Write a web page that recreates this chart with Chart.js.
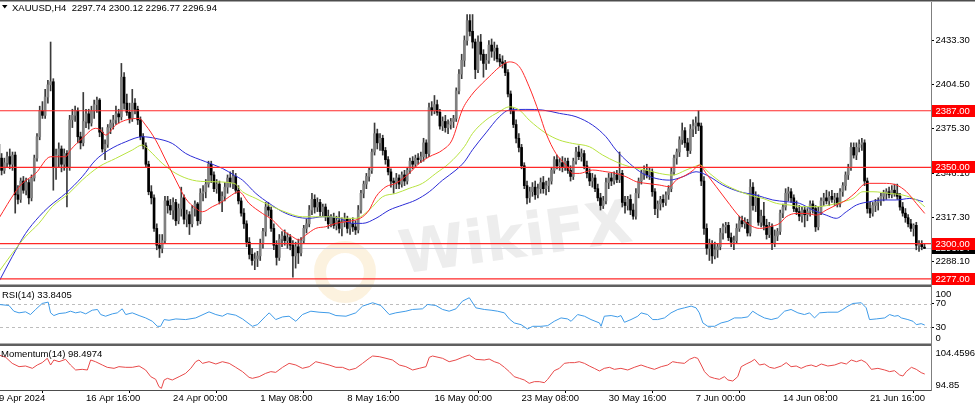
<!DOCTYPE html>
<html>
<head>
<meta charset="utf-8">
<script src="https://cdn.jsdelivr.net/npm/chart.js@4.4.1/dist/chart.umd.min.js"></script>
<style>
  html, body { margin: 0; padding: 0; background: #fff; }
  #chart { display: block; }
</style>
</head>
<body>
<canvas id="chart" width="975" height="405"></canvas>
<script>
const FONT = '"Liberation Sans", Arial, sans-serif';

const symbolTitle = 'XAUUSD,H4  2297.74 2300.12 2296.77 2296.94';
const rsiTitle = 'RSI(14) 33.8405';
const momTitle = 'Momentum(14) 98.4974';

// bottom axis: a label every 32 H4 bars
const tickBars = [0, 32, 64, 96, 128, 160, 192, 224, 256, 288, 320];
const tickLabels = ['9 Apr 2024', '16 Apr 16:00', '24 Apr 00:00', '1 May 08:00', '8 May 16:00',
  '16 May 00:00', '23 May 08:00', '30 May 16:00', '7 Jun 00:00', '14 Jun 08:00', '21 Jun 16:00'];

const priceTicks = [2433.30, 2404.50, 2375.30, 2346.10, 2317.30, 2288.10];
const levels = [2387, 2350, 2300, 2277];
const lastPrice = 2296.94;
const rsiLevels = [70, 30];
const rsiSideLabels = ['100', '0'];
const momSideLabels = ['104.4596', '94.85'];

const opens = [
  2365,2356,2348,2353,2357,2352,2358,2332,2329,2341,2335,2340,2330,2343,2356,2370,2387,2384,2396,2404,
  2406,2350,2358,2362,2352,2359,2350,2381,2384,2387,2370,2366,2380,2385,2379,2387,2391,2394,2373,2362,
  2365,2376,2379,2381,2385,2383,2409,2392,2386,2382,2392,2388,2381,2370,2364,2352,2334,2330,2310,2299,
  2297,2302,2328,2325,2322,2327,2315,2323,2330,2316,2319,2313,2323,2326,2315,2333,2334,2339,2352,2345,
  2336,2339,2328,2331,2337,2343,2340,2344,2335,2328,2320,2313,2301,2293,2289,2290,2292,2300,2308,2324,
  2322,2310,2299,2291,2303,2305,2302,2304,2299,2292,2298,2294,2302,2310,2313,2322,2329,2324,2327,2321,
  2324,2318,2313,2317,2312,2315,2310,2314,2316,2310,2313,2311,2309,2322,2333,2339,2344,2348,2360,2372,
  2366,2369,2361,2355,2347,2341,2340,2343,2339,2345,2341,2348,2354,2352,2356,2355,2357,2366,2359,2389,
  2387,2391,2386,2377,2380,2376,2378,2380,2382,2400,2411,2420,2433,2446,2439,2432,2414,2432,2424,2418,
  2420,2430,2426,2428,2421,2419,2418,2412,2398,2387,2378,2369,2363,2351,2338,2330,2334,2337,2332,2336,
  2340,2336,2338,2341,2348,2355,2351,2353,2350,2354,2348,2344,2354,2360,2357,2359,2351,2346,2341,2343,
  2336,2330,2325,2328,2340,2343,2341,2345,2342,2346,2327,2325,2329,2322,2318,2333,2341,2346,2348,2345,
  2347,2334,2323,2326,2329,2327,2332,2336,2347,2356,2360,2368,2374,2366,2361,2375,2377,2379,2377,2341,
  2310,2297,2300,2292,2296,2298,2307,2311,2312,2304,2301,2302,2310,2315,2313,2314,2307,2337,2325,2330,
  2314,2318,2312,2306,2311,2300,2305,2308,2320,2324,2333,2334,2330,2323,2321,2318,2322,2319,2321,2326,
  2323,2311,2321,2328,2330,2328,2331,2329,2330,2326,2334,2338,2345,2350,2363,2358,2363,2365,2366,2341,
  2323,2320,2325,2327,2328,2331,2333,2334,2332,2335,2333,2331,2324,2320,2317,2313,2310,2312,2299,2300,
  2297.74
];
const highs = [
  2368,2359,2356,2360,2362,2360,2360,2338,2343,2344,2343,2342,2345,2358,2372,2390,2393,2401,2407,2432,
  2408,2362,2366,2364,2362,2361,2384,2388,2390,2389,2373,2399,2388,2388,2390,2394,2396,2395,2376,2368,
  2378,2381,2384,2390,2388,2418,2412,2398,2392,2401,2395,2390,2383,2372,2366,2354,2338,2332,2313,2306,
  2306,2331,2331,2329,2330,2329,2326,2337,2332,2322,2321,2325,2328,2327,2336,2338,2342,2354,2354,2347,
  2342,2341,2334,2340,2345,2347,2348,2346,2338,2330,2323,2315,2304,2297,2294,2295,2303,2310,2327,2327,
  2324,2313,2302,2306,2308,2309,2307,2306,2302,2301,2303,2304,2312,2316,2325,2333,2332,2330,2329,2326,
  2326,2322,2319,2320,2318,2321,2317,2320,2318,2316,2317,2315,2325,2335,2341,2346,2350,2362,2379,2375,
  2372,2371,2363,2357,2349,2343,2346,2345,2347,2348,2350,2356,2357,2358,2359,2360,2369,2368,2392,2393,
  2397,2394,2388,2383,2384,2381,2382,2384,2402,2414,2424,2436,2450,2450,2450,2434,2436,2437,2427,2424,
  2433,2434,2432,2430,2424,2423,2420,2414,2400,2389,2381,2372,2365,2353,2341,2337,2340,2341,2339,2343,
  2344,2341,2343,2350,2357,2358,2356,2357,2356,2356,2351,2356,2363,2364,2362,2361,2354,2349,2346,2345,
  2339,2333,2331,2343,2346,2346,2347,2348,2360,2348,2331,2331,2332,2326,2336,2343,2348,2351,2352,2350,
  2349,2336,2328,2331,2332,2334,2338,2350,2358,2362,2370,2379,2376,2369,2378,2381,2383,2387,2379,2344,
  2313,2303,2302,2301,2300,2310,2313,2314,2314,2307,2305,2313,2318,2318,2317,2316,2342,2340,2334,2332,
  2322,2327,2316,2314,2313,2309,2310,2322,2326,2336,2337,2336,2332,2328,2325,2324,2324,2323,2328,2328,
  2325,2324,2330,2333,2335,2334,2335,2333,2333,2336,2340,2347,2352,2366,2366,2366,2368,2369,2368,2343,
  2327,2327,2329,2330,2333,2335,2336,2337,2338,2339,2339,2333,2327,2323,2319,2316,2313,2314,2302,2302,
  2300.12
];
const lows = [
  2352,2345,2346,2350,2349,2348,2320,2326,2327,2333,2332,2326,2328,2341,2354,2368,2382,2382,2392,2400,
  2335,2342,2350,2347,2348,2324,2348,2376,2380,2366,2362,2364,2376,2375,2377,2382,2386,2370,2360,2355,
  2363,2372,2375,2378,2379,2381,2388,2384,2379,2380,2385,2378,2368,2362,2350,2332,2326,2308,2296,2291,
  2294,2300,2320,2319,2316,2312,2313,2318,2313,2311,2306,2311,2318,2312,2313,2328,2330,2337,2340,2334,
  2333,2326,2321,2328,2333,2337,2336,2333,2326,2318,2310,2298,2290,2286,2283,2285,2289,2297,2305,2318,
  2308,2296,2286,2289,2298,2299,2297,2296,2278,2284,2287,2292,2300,2307,2311,2319,2320,2321,2318,2318,
  2315,2310,2311,2310,2309,2307,2305,2311,2307,2306,2308,2306,2307,2320,2330,2336,2341,2346,2358,2362,
  2361,2358,2352,2345,2337,2333,2336,2336,2337,2338,2339,2346,2349,2350,2352,2353,2354,2356,2357,2384,
  2385,2384,2375,2374,2373,2372,2375,2376,2380,2398,2408,2416,2430,2436,2428,2408,2412,2420,2409,2414,
  2418,2422,2420,2419,2416,2415,2410,2396,2385,2376,2366,2360,2349,2336,2326,2327,2331,2329,2330,2333,
  2333,2332,2334,2339,2346,2349,2348,2347,2348,2346,2341,2342,2352,2355,2354,2349,2343,2338,2337,2334,
  2328,2322,2323,2326,2336,2338,2339,2340,2340,2324,2320,2322,2319,2316,2316,2330,2339,2342,2343,2342,
  2331,2319,2317,2322,2324,2325,2329,2334,2345,2352,2357,2365,2363,2357,2359,2370,2372,2374,2338,2306,
  2293,2289,2287,2290,2291,2296,2303,2307,2302,2298,2296,2300,2308,2311,2310,2305,2305,2322,2321,2312,
  2311,2309,2303,2304,2296,2298,2302,2306,2317,2322,2328,2327,2321,2319,2315,2314,2311,2315,2318,2320,
  2308,2309,2319,2325,2326,2325,2327,2325,2324,2324,2331,2335,2342,2348,2356,2355,2360,2361,2338,2320,
  2317,2318,2321,2322,2325,2328,2329,2330,2330,2331,2329,2322,2318,2314,2311,2308,2305,2296,2295,2296,
  2296.77
];
const closes = [
  2356,2348,2353,2357,2352,2358,2332,2329,2341,2335,2340,2330,2343,2356,2370,2387,2384,2396,2404,2406,
  2350,2358,2362,2352,2359,2350,2381,2384,2387,2370,2366,2380,2385,2379,2387,2391,2394,2373,2362,2365,
  2376,2379,2381,2385,2383,2409,2392,2386,2382,2392,2388,2381,2370,2364,2352,2334,2330,2310,2299,2297,
  2302,2328,2325,2322,2327,2315,2323,2330,2316,2319,2313,2323,2326,2315,2333,2334,2339,2352,2345,2336,
  2339,2328,2331,2337,2343,2340,2344,2335,2328,2320,2313,2301,2293,2289,2290,2292,2300,2308,2324,2322,
  2310,2299,2291,2303,2305,2302,2304,2299,2292,2298,2294,2302,2310,2313,2322,2329,2324,2327,2321,2324,
  2318,2313,2317,2312,2315,2310,2314,2316,2310,2313,2311,2309,2322,2333,2339,2344,2348,2360,2372,2366,
  2369,2361,2355,2347,2341,2340,2343,2339,2345,2341,2348,2354,2352,2356,2355,2357,2366,2359,2389,2387,
  2391,2386,2377,2380,2376,2378,2380,2382,2400,2411,2420,2433,2446,2439,2432,2414,2432,2424,2418,2420,
  2430,2426,2428,2421,2419,2418,2412,2398,2387,2378,2369,2363,2351,2338,2330,2334,2337,2332,2336,2340,
  2336,2338,2341,2348,2355,2351,2353,2350,2354,2348,2344,2354,2360,2357,2359,2351,2346,2341,2343,2336,
  2330,2325,2328,2340,2343,2341,2345,2342,2346,2327,2325,2329,2322,2318,2333,2341,2346,2348,2345,2347,
  2334,2323,2326,2329,2327,2332,2336,2347,2356,2360,2368,2374,2366,2361,2375,2377,2379,2377,2341,2310,
  2297,2300,2292,2296,2298,2307,2311,2312,2304,2301,2302,2310,2315,2313,2314,2307,2337,2325,2330,2314,
  2318,2312,2306,2311,2300,2305,2308,2320,2324,2333,2334,2330,2323,2321,2318,2322,2319,2321,2326,2323,
  2311,2321,2328,2330,2328,2331,2329,2330,2326,2334,2338,2345,2350,2363,2358,2363,2365,2366,2341,2323,
  2320,2325,2327,2328,2331,2333,2334,2332,2335,2333,2331,2324,2320,2317,2313,2310,2312,2299,2300,2298,
  2296.94
];

// moving averages, read as [bar, price]
const maRed = [
  [0,2316.6],[6.1,2334.0],[8.6,2339.5],[13.5,2346.0],[19.0,2356.9],[24.5,2356.9],[26.3,2361.3],[30.6,2368.9],
  [35.5,2375.5],[37.4,2374.4],[39.2,2371.1],[42.9,2377.6],[46.6,2380.9],[51.5,2382.0],[53.9,2377.6],[57.6,2367.8],
  [61.3,2354.7],[65.0,2341.6],[68.6,2329.6],[72.3,2323.1],[74.8,2320.9],[78.4,2324.2],[82.1,2327.5],[84.6,2330.7],
  [88.2,2334.0],[91.9,2326.4],[96.8,2319.8],[100.5,2315.5],[104.2,2308.9],[107.8,2304.6],[110.3,2302.4],[112.7,2305.6],
  [116.4,2310.0],[120.1,2311.1],[123.8,2313.3],[127.5,2314.4],[131.1,2315.5],[133.6,2317.6],[136.0,2322.0],[138.5,2330.7],
  [142.2,2337.3],[145.8,2339.5],[150.7,2346.0],[154.4,2352.6],[158.1,2356.9],[163.0,2361.3],[166.5,2368.0],[170.2,2387.5],
  [173.5,2397.0],[177.6,2405.0],[180.1,2409.3],[183.8,2415.5],[187.5,2419.0],[191.2,2415.8],[194.8,2402.7],[198.5,2385.3],
  [201.0,2372.2],[204.6,2359.1],[208.3,2351.5],[210.8,2346.0],[213.2,2346.0],[215.7,2347.1],[218.1,2348.2],[223.0,2347.1],
  [226.7,2346.0],[230.4,2343.8],[234.1,2340.6],[237.7,2339.5],[242.6,2338.4],[246.3,2337.3],[248.8,2341.6],[252.4,2344.9],
  [255.0,2348.0],[257.4,2351.5],[259.8,2346.0],[263.5,2337.3],[267.2,2328.6],[272.1,2317.6],[275.8,2312.2],[279.4,2310.0],
  [283.1,2311.1],[286.8,2313.3],[289.2,2317.6],[292.9,2319.8],[296.6,2319.8],[300.3,2318.7],[303.9,2322.0],[307.6,2325.3],
  [311.3,2328.6],[315.0,2334.0],[317.4,2338.4],[319.9,2339.5],[324.8,2339.5],[329.7,2338.4],[333.4,2334.0],[337.0,2326.4],
  [340.1,2319.8]
];
const maGreen = [
  [0,2281.6],[4.9,2293.6],[9.8,2304.6],[14.7,2313.3],[19.6,2324.2],[25.7,2332.9],[30.6,2341.6],[36.8,2350.4],
  [42.9,2355.8],[49.0,2361.3],[52.7,2364.6],[55.1,2361.3],[60.0,2352.6],[65.0,2346.0],[71.1,2341.6],[77.2,2340.6],
  [86.4,2339.5],[89.5,2334.0],[94.4,2329.6],[100.5,2324.2],[106.6,2319.8],[111.5,2317.6],[116.4,2317.6],[121.3,2317.6],
  [127.5,2316.6],[131.1,2316.6],[136.0,2322.0],[140.9,2330.7],[145.8,2332.9],[150.7,2336.2],[155.6,2339.5],[160.5,2346.0],
  [165.4,2352.6],[171.0,2363.5],[174.0,2372.2],[178.9,2380.9],[183.8,2386.4],[187.5,2389.6],[191.2,2387.5],[194.8,2380.9],
  [201.0,2372.2],[205.9,2367.8],[210.8,2365.6],[216.9,2363.5],[221.8,2358.0],[226.7,2353.6],[231.6,2350.4],[237.7,2348.2],
  [242.6,2346.0],[247.5,2344.9],[252.4,2348.2],[255.5,2350.4],[257.4,2351.5],[261.1,2346.0],[265.9,2339.5],[270.9,2335.1],
  [275.8,2331.8],[280.7,2329.6],[285.6,2326.4],[290.5,2325.3],[295.4,2324.2],[300.3,2324.2],[305.2,2325.3],[310.1,2327.5],
  [313.7,2329.6],[317.4,2334.0],[321.1,2334.0],[327.2,2332.9],[332.1,2331.8],[337.0,2328.6],[340.1,2324.2]
];
const maBlue = [
  [0,2275.1],[4.9,2291.5],[9.8,2306.7],[14.7,2317.6],[18.4,2324.2],[24.5,2332.9],[30.6,2343.8],[35.5,2354.7],
  [40.4,2361.3],[46.6,2366.7],[52.7,2370.0],[57.6,2368.9],[63.7,2365.6],[68.6,2359.1],[76.0,2353.6],[82.1,2349.3],
  [86.4,2344.9],[89.5,2341.6],[94.4,2332.9],[99.3,2326.4],[104.2,2320.9],[109.1,2317.6],[114.0,2316.6],[118.9,2317.6],
  [125.0,2316.6],[129.9,2313.3],[133.6,2313.3],[138.5,2316.6],[143.4,2322.0],[148.3,2325.3],[153.2,2328.6],[158.1,2334.0],
  [163.0,2341.6],[167.9,2348.2],[171.0,2353.6],[174.0,2361.5],[178.9,2372.5],[183.8,2383.0],[187.5,2387.5],[193.6,2387.9],
  [199.7,2387.5],[205.9,2385.3],[212.0,2383.1],[218.1,2377.6],[223.0,2370.0],[226.7,2361.3],[231.6,2352.6],[236.5,2346.0],
  [241.4,2342.7],[246.3,2341.6],[251.2,2343.8],[256.1,2347.1],[261.1,2343.8],[265.9,2338.4],[272.1,2334.0],[278.2,2331.8],
  [284.3,2328.6],[289.2,2327.5],[294.1,2326.4],[299.0,2322.0],[303.9,2318.7],[307.6,2316.6],[311.3,2320.9],[315.0,2325.3],
  [319.9,2327.5],[324.8,2328.6],[329.7,2328.6],[334.6,2329.6],[339.5,2327.5]
];

// indicator panes, read as [bar, value]
const rsi = [
  [0,68.7],[3.7,67.0],[5.5,57.3],[7.4,54.5],[9.8,56.2],[11.6,51.6],[13.5,60.2],[15.9,70.4],[18.1,72.7],[19.0,54.5],
  [20.2,49.9],[22.1,53.3],[24.5,54.5],[26.3,57.3],[28.2,54.5],[30.0,56.2],[31.9,52.8],[34.3,59.0],[36.2,60.2],[37.4,51.6],
  [39.2,48.8],[41.7,52.8],[43.5,54.5],[45.3,61.3],[46.6,51.6],[49.0,54.5],[51.5,49.9],[53.9,45.9],[56.4,40.2],[58.2,31.7],
  [59.4,31.7],[60.7,43.1],[62.5,41.9],[65.0,44.2],[68.6,43.1],[72.3,45.9],[77.2,56.2],[79.7,51.6],[82.1,48.8],[83.9,53.3],
  [87.0,50.5],[89.5,44.2],[93.1,31.7],[95.0,34.5],[98.0,48.8],[99.3,54.5],[101.7,43.1],[104.2,47.6],[106.6,48.8],[109.1,40.2],
  [111.5,51.6],[114.6,57.3],[117.6,55.6],[121.3,54.5],[123.8,49.9],[127.5,48.8],[131.1,54.5],[133.6,65.9],[137.3,71.6],[140.3,67.0],
  [143.4,51.6],[145.8,54.5],[149.5,57.3],[151.9,60.2],[155.6,61.3],[157.5,68.7],[160.5,67.0],[163.0,60.2],[165.4,57.3],[167.9,61.3],
  [170.3,74.4],[172.8,80.1],[175.2,63.0],[178.3,60.2],[180.8,59.0],[183.2,57.3],[185.7,54.5],[187.5,44.2],[189.3,37.4],[191.8,34.5],
  [194.2,27.1],[196.1,31.7],[199.1,31.7],[201.6,32.8],[204.0,40.2],[206.5,45.9],[208.9,44.2],[210.2,40.2],[212.6,51.6],[215.1,48.8],
  [217.5,43.1],[220.6,37.4],[221.2,31.7],[222.4,48.8],[224.9,49.9],[227.3,47.6],[228.5,49.9],[229.8,38.5],[232.2,43.1],[234.7,48.8],
  [235.9,54.5],[238.3,51.6],[240.2,43.1],[242.0,43.1],[244.5,45.9],[246.9,54.5],[249.4,60.2],[251.8,63.0],[254.3,65.9],[256.1,63.0],
  [257.3,54.5],[258.6,37.4],[260.4,31.7],[262.9,31.7],[265.3,37.4],[267.8,40.2],[270.2,45.9],[272.7,45.9],[275.1,47.6],[276.9,57.3],
  [278.8,51.6],[281.2,45.9],[283.7,43.1],[286.1,45.9],[288.6,57.3],[291.0,60.2],[293.5,54.5],[295.9,51.6],[297.8,54.5],[299.6,45.9],
  [301.5,54.5],[304.5,55.6],[308.2,55.6],[310.0,60.2],[311.9,65.9],[313.7,70.4],[316.8,71.6],[318.6,63.0],[319.8,43.1],[322.3,44.2],
  [325.4,45.9],[327.2,51.6],[329.0,48.8],[330.3,49.9],[331.5,45.9],[333.9,43.1],[335.8,40.2],[337.0,34.5],[338.8,36.2],[340.1,33.8]
];
const momentum = [
  [0,102.86],[2.5,102.33],[4.9,100.95],[7.4,100.19],[9.8,100.34],[12.3,99.81],[14.1,100.57],[15.9,101.11],[17.8,102.10],[19.0,100.57],
  [20.2,101.72],[22.1,101.33],[24.5,101.87],[26.3,100.57],[28.2,99.43],[30.6,99.58],[32.5,99.43],[33.7,101.72],[35.5,101.33],[38.0,100.57],
  [39.8,100.04],[42.3,99.81],[44.1,100.19],[46.6,100.04],[49.0,100.04],[51.5,100.34],[53.9,99.43],[55.8,97.90],[57.6,97.29],[58.8,95.61],
  [59.7,95.23],[60.7,97.14],[61.9,97.52],[63.7,97.14],[66.2,97.90],[68.6,98.66],[70.5,99.81],[72.3,101.33],[73.5,101.72],[74.8,100.95],
  [77.2,101.33],[79.7,100.80],[82.1,101.33],[84.6,100.95],[87.0,100.04],[89.5,99.05],[91.9,97.75],[93.1,97.52],[95.6,97.90],[98.0,98.66],
  [99.9,99.05],[101.7,98.89],[104.2,100.04],[106.6,100.95],[109.1,100.57],[111.5,99.81],[114.0,100.19],[116.4,101.33],[118.9,100.95],[121.3,100.57],
  [123.8,100.04],[126.2,100.04],[128.7,99.43],[131.1,99.81],[133.6,100.95],[136.0,102.10],[137.3,102.63],[139.7,102.48],[142.2,102.10],[144.6,101.72],
  [147.1,100.57],[149.5,100.19],[152.0,99.43],[154.4,99.81],[156.9,100.19],[158.1,102.33],[159.3,102.63],[163.0,102.10],[165.4,101.33],[167.9,101.72],
  [170.3,102.33],[172.8,102.86],[175.2,101.87],[178.3,101.72],[180.1,101.94],[182.0,101.33],[183.8,100.95],[185.7,100.04],[187.5,99.05],[189.3,97.90],
  [191.2,97.52],[193.0,97.14],[194.8,96.38],[196.7,96.76],[198.5,96.76],[200.4,96.53],[201.6,97.29],[202.8,98.28],[204.0,99.27],[205.9,99.81],
  [207.7,100.95],[209.6,101.11],[211.4,101.11],[213.2,101.33],[215.1,100.95],[216.9,100.34],[218.7,99.81],[220.6,99.20],[222.4,99.81],[224.3,100.04],
  [226.1,99.58],[228.5,99.81],[231.0,99.43],[233.4,100.04],[235.9,100.57],[238.3,100.04],[240.8,99.58],[243.3,100.19],[245.7,100.57],[247.5,101.33],
  [249.4,101.11],[251.8,100.95],[253.7,101.87],[255.5,102.33],[256.7,102.10],[258.0,100.57],[259.2,99.05],[261.0,97.90],[262.9,97.52],[264.7,97.29],
  [266.5,97.90],[267.8,97.14],[269.6,96.91],[271.4,97.90],[272.7,100.19],[274.5,100.80],[276.3,101.33],[277.6,101.87],[279.4,100.57],[281.2,100.80],
  [283.1,100.04],[284.9,99.81],[287.4,100.34],[289.2,101.11],[291.0,100.19],[292.9,100.34],[294.7,99.81],[296.6,100.34],[298.4,100.57],[300.2,100.19],
  [302.1,100.80],[304.5,100.34],[307.0,100.57],[309.4,101.11],[311.3,100.80],[313.1,101.72],[315.0,101.33],[316.8,101.72],[318.6,101.11],[320.5,99.58],
  [322.9,99.81],[325.4,99.43],[327.2,99.05],[329.0,99.27],[330.9,98.28],[332.1,98.05],[333.3,99.05],[335.2,100.04],[337.0,99.58],[338.8,98.82],
  [340.1,98.50]
];

const toPoints = arr => arr.map(p => ({x: p[0], y: p[1]}));
const candleBodies = closes.map((c, i) => ({x: i, y: [opens[i], c]}));
const candleWicks = highs.map((h, i) => ({x: i, y: [lows[i], h]}));
const bodyColors = closes.map((c, i) => c >= opens[i] ? '#808080' : '#000000');

function lineSet(data, axis, color) {
    return {
        type: 'line',
        data: toPoints(data),
        yAxisID: axis,
        borderColor: color,
        borderWidth: 1,
        pointRadius: 0,
        cubicInterpolationMode: axis === 'y' ? 'monotone' : 'default',
        tension: 0,
        order: 0
    };
}

const panesPlugin = {
    id: 'panes',
    beforeDatasetsDraw(chart) {
        const {ctx, chartArea, scales} = chart;
        const y = scales.y;
        const yRsi = scales.yRsi;

        // watermark behind the candles
        ctx.save();
        ctx.beginPath();
        ctx.rect(chartArea.left, y.top, chartArea.right - chartArea.left, yRsi.bottom - y.top);
        ctx.clip();
        ctx.strokeStyle = 'rgba(246, 210, 140, 0.28)';
        ctx.lineWidth = 12;
        ctx.beginPath();
        ctx.arc(345, 272, 25, 0, Math.PI * 2);
        ctx.stroke();
        ctx.translate(516, 242);
        ctx.rotate(-0.14);
        ctx.font = 'bold 60px "DejaVu Sans"';
        ctx.fillStyle = 'rgba(190, 190, 190, 0.28)';
        ctx.textAlign = 'center';
        ctx.textBaseline = 'middle';
        ctx.fillText('WikiFX', 0, 0);
        ctx.restore();

        ctx.save();
        ctx.lineWidth = 1;
        const py = Math.round(y.getPixelForValue(lastPrice)) + 0.5;
        ctx.strokeStyle = '#c4c6d6';
        ctx.beginPath();
        ctx.moveTo(chartArea.left, py);
        ctx.lineTo(chartArea.right, py);
        ctx.stroke();

        ctx.setLineDash([3, 3]);
        ctx.strokeStyle = '#bdbdbd';
        rsiLevels.forEach(v => {
            const ry = Math.round(yRsi.getPixelForValue(v)) + 0.5;
            ctx.beginPath();
            ctx.moveTo(chartArea.left, ry);
            ctx.lineTo(chartArea.right, ry);
            ctx.stroke();
        });
        ctx.restore();
    },
    afterDraw(chart) {
        const {ctx, chartArea, scales} = chart;
        const {y, yRsi, yMom} = scales;
        const lx = chartArea.right + 4.5;

        ctx.save();
        // horizontal price levels
        ctx.setLineDash([]);
        ctx.globalAlpha = 1;
        ctx.strokeStyle = 'rgb(255, 40, 40)';
        ctx.lineWidth = 1.2;
        levels.forEach(v => {
            const ly = y.getPixelForValue(v);
            ctx.beginPath();
            ctx.moveTo(chartArea.left, ly);
            ctx.lineTo(chartArea.right, ly);
            ctx.stroke();
        });

        ctx.fillStyle = '#4d4d4d';
        ctx.fillRect(0, 0, chart.width, 1.5);
        ctx.fillStyle = '#5f5f5f';
        [y.bottom, yRsi.bottom].forEach(b => {
            ctx.fillRect(chartArea.left, b - 1.5, chartArea.right - chartArea.left, 2.5);
        });

        ctx.fillStyle = '#000';
        ctx.beginPath();
        ctx.moveTo(2, 5);
        ctx.lineTo(7.5, 5);
        ctx.lineTo(4.75, 8.5);
        ctx.closePath();
        ctx.fill();

        ctx.font = '9.5px ' + FONT;
        ctx.textAlign = 'left';
        ctx.textBaseline = 'middle';
        ctx.fillText(symbolTitle, 12, 8);
        ctx.fillText(rsiTitle, 2, yRsi.top + 9);
        ctx.fillText(momTitle, 1, yMom.top + 9);

        ctx.fillText(rsiSideLabels[0], lx, yRsi.top + 8);
        ctx.fillText(rsiSideLabels[1], lx, yRsi.bottom - 7);
        ctx.fillText(momSideLabels[0], lx, yMom.top + 8);
        ctx.fillText(momSideLabels[1], lx, yMom.bottom - 5);

        const priceBox = (v, bg) => {
            const py = Math.round(y.getPixelForValue(v));
            ctx.fillStyle = bg;
            ctx.fillRect(chartArea.right + 1, py - 6, chart.width - chartArea.right - 1, 12);
            ctx.fillStyle = '#fff';
            ctx.fillText(v.toFixed(2), lx, py + 0.5);
        };
        priceBox(lastPrice, '#000');
        levels.forEach(v => priceBox(v, '#ff0000'));
        ctx.restore();
    }
};

const sideAxis = (weight, extra) => Object.assign({
    position: 'right',
    stack: 'panes',
    stackWeight: weight,
    beginAtZero: false,
    afterFit: s => { s.width = 44; s.paddingTop = 0; s.paddingBottom = 0; },
    border: {color: '#7f7f7f'},
    grid: {drawOnChartArea: false, tickLength: 3, color: '#000'},
    ticks: {autoSkip: false, padding: 1.5, color: '#000', font: {family: FONT, size: 9.5}}
}, extra);

new Chart(document.getElementById('chart'), {
    type: 'bar',
    data: {
        datasets: [
            lineSet(maRed, 'y', '#ff2a2a'),
            lineSet(maGreen, 'y', '#b8e340'),
            lineSet(maBlue, 'y', '#2c2cd6'),
            {
                type: 'bar', data: candleBodies, yAxisID: 'y',
                backgroundColor: bodyColors, barThickness: 2, minBarLength: 1,
                grouped: false, order: 1
            },
            {
                type: 'bar', data: candleWicks, yAxisID: 'y',
                backgroundColor: '#3a3a3a', barThickness: 1,
                grouped: false, order: 2
            },
            lineSet(rsi, 'yRsi', '#3f9be8'),
            lineSet(momentum, 'yMom', '#e84a4a')
        ]
    },
    options: {
        responsive: false,
        animation: false,
        events: [],
        layout: {padding: {top: 2, left: 0, right: 0, bottom: 0}},
        plugins: {legend: {display: false}, tooltip: {enabled: false}},
        scales: {
            x: {
                type: 'linear',
                min: 0.41,
                max: 342.4,
                offset: false,
                afterFit: s => { s.height = 15; s.paddingLeft = 0; s.paddingRight = 0; },
                afterBuildTicks: s => { s.ticks = tickBars.map(v => ({value: v})); },
                border: {color: '#4d4d4d'},
                grid: {drawOnChartArea: false, tickLength: 3, color: '#000'},
                ticks: {
                    autoSkip: false, maxRotation: 0, align: 'start', padding: 0,
                    color: '#000', font: {family: FONT, size: 9.5},
                    callback: (v, i) => tickLabels[i]
                }
            },
            y: sideAxis(284, {
                min: 2272.3,
                max: 2458.2,
                afterBuildTicks: s => { s.ticks = priceTicks.map(v => ({value: v})); },
                ticks: {autoSkip: false, padding: 1.5, color: '#000', font: {family: FONT, size: 9.5},
                    callback: v => Number(v).toFixed(2)}
            }),
            yRsi: sideAxis(59, {
                min: 0,
                max: 100,
                afterBuildTicks: s => { s.ticks = rsiLevels.map(v => ({value: v})); }
            }),
            yMom: sideAxis(45, {
                min: 94.85,
                max: 105.15,
                grid: {drawOnChartArea: false, drawTicks: false},
                ticks: {display: false}
            })
        }
    },
    plugins: [panesPlugin]
});
</script>
</body>
</html>
